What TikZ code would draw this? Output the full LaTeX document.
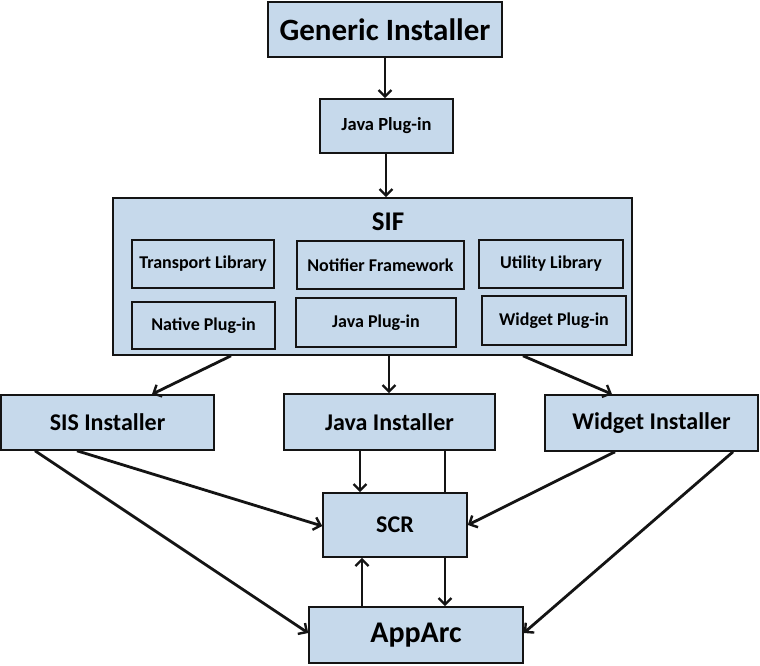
\documentclass[tikz,border=0pt]{standalone}
\usepackage{fontspec}
\setmainfont{Carlito}
\usetikzlibrary{arrows.meta}
\definecolor{boxblue}{HTML}{C6D9EB}
\definecolor{edge}{HTML}{141414}
\tikzset{
  box/.style={draw=edge, fill=boxblue, line width=1.6pt, inner sep=0pt, align=center, font=\bfseries},
  arr/.style={line width=2.8pt, draw=edge, -{Straight Barb[length=6.5pt,width=13pt,line width=2.4pt]}},
  plain/.style={line width=2.8pt, draw=edge},
}
\begin{document}
\begin{tikzpicture}[x=1pt,y=-1pt]
\useasboundingbox (0,0) rectangle (760,665);
\fill[white] (0,0) rectangle (760,665);
% top
\node[box, minimum width=234pt, minimum height=55pt, font=\bfseries\fontsize{31}{34}\selectfont] (gi) at (385,29.5) {Generic Installer};
\node[box, minimum width=133pt, minimum height=54pt, font=\bfseries\fontsize{18.5}{21}\selectfont] (jp) at (386.5,126) {Java Plug-in};
% SIF
\node[box, minimum width=519pt, minimum height=157pt] (sif) at (372.5,276.5) {};
\node[font=\bfseries\fontsize{27}{30}\selectfont, inner sep=0pt] (siftitle) at (388,222) {SIF};
\tikzset{inner/.style={box, minimum height=48pt, font=\bfseries\fontsize{18}{21}\selectfont}}
\node[inner, minimum width=142pt] (tl) at (203,264) {Transport Library};
\node[inner, minimum width=167pt] (nf) at (380.5,265) {Notifier Framework};
\node[inner, minimum width=144pt] (ul) at (551,264) {Utility Library};
\node[inner, minimum width=143pt, minimum height=47pt] (np) at (203.5,325.5) {Native Plug-in};
\node[inner, minimum width=160pt, minimum height=49pt] (jp2) at (376,322.5) {Java Plug-in};
\node[inner, minimum width=144pt, minimum height=49pt] (wp) at (554,320.5) {Widget Plug-in};
% installers
\tikzset{inst/.style={box, minimum width=213pt, minimum height=56pt, font=\bfseries\fontsize{24}{28}\selectfont}}
\node[inst, minimum height=55pt] (sis) at (107.5,422.5) {SIS Installer};
\node[inst, minimum width=211pt] (ji) at (389.5,422) {Java Installer};
\node[inst] (wi) at (651.5,423) {Widget Installer};
% bottom
\node[box, minimum width=144pt, minimum height=64pt, font=\bfseries\fontsize{24}{28}\selectfont] (scr) at (395,525) {SCR};
\node[box, minimum width=214pt, minimum height=56pt, font=\bfseries\fontsize{30}{34}\selectfont] (aa) at (416,635) {AppArc};
% connectors
\draw[arr] (gi.south -| 385,0) -- (jp.north -| 385,0);
\draw[arr] (jp.south -| 386,0) -- (sif.north -| 386,0);
\draw[arr] (sif.south -| 231,0) -- (sis.north -| 152,0);
\draw[arr] (sif.south -| 389,0) -- (ji.north -| 389,0);
\draw[arr] (sif.south -| 523,0) -- (wi.north -| 612,0);
\draw[arr] (sis.south -| 77,0) -- (scr.west |- 0,526);
\draw[arr] (sis.south -| 35,0) -- (aa.west |- 0,633);
\draw[arr] (ji.south -| 360,0) -- (scr.north -| 360,0);
\draw[plain] (ji.south -| 445,0) -- (scr.north -| 445,0);
\draw[arr] (wi.south -| 615,0) -- (scr.east |- 0,525);
\draw[arr] (wi.south -| 733,0) -- (aa.east |- 0,633);
\draw[arr] (aa.north -| 362,0) -- (scr.south -| 362,0);
\draw[arr] (scr.south -| 445,0) -- (aa.north -| 445,0);
\end{tikzpicture}
\end{document}
